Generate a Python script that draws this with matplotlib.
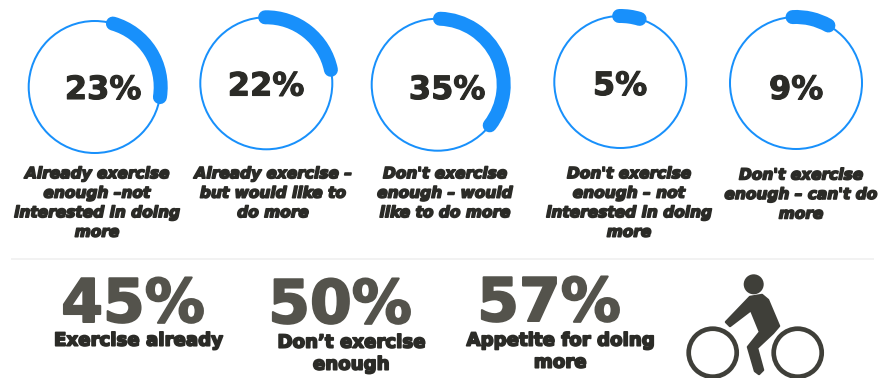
import matplotlib
matplotlib.use("Agg")
import matplotlib.pyplot as plt
import matplotlib.patheffects as pe
from matplotlib.patches import Arc, Circle, Polygon

# Survey shares for each exercise attitude group
group_values = [23, 22, 35, 5, 9]
group_labels = [
    "Already exercise\nenough –not\ninterested in doing\nmore",
    "Already exercise –\nbut would like to\ndo more",
    "Don't exercise\nenough – would\nlike to do more",
    "Don't exercise\nenough – not\ninterested in doing\nmore",
    "Don't exercise\nenough – can't do\nmore",
]
summary_values = [45, 50, 57]
summary_labels = ["Exercise already", "Don’t exercise\nenough", "Appetite for doing\nmore"]

# Layout in pixels, origin at the top left
PX = 0.72
ring_x = [94.7, 266.3, 437.7, 620.3, 796]
ring_y = [87, 83.3, 84.7, 82, 83]
arc_start = [16, -1, 2, -1, -3]
num_x = [103, 266, 447, 620, 796]
num_y = [87, 83.5, 87, 83, 87]
cap_x = [97, 273, 445, 629, 801]
cap_y = [173.7, 173.7, 173.7, 173.7, 175]
sum_x = [133, 340, 549]
sum_y = [299, 300, 298]
sum_lab_x = [138, 351, 560]
sum_lab_y = [340.7, 342.7, 340.7]

BLUE = "#1890fb"
DARK = "#2b2b27"
GREY = "#54534c"
ICON = "#3f3f39"
RADIUS = 66

fig = plt.figure(figsize=(8.82, 3.78), dpi=100, facecolor="white")
ax = fig.add_axes([0, 0, 1, 1])
ax.set_xlim(0, 882)
ax.set_ylim(378, 0)
ax.axis("off")


def heavy(width, color):
    return [pe.withStroke(linewidth=width * PX, foreground=color)]


for i, value in enumerate(group_values):
    ax.add_patch(Circle((ring_x[i], ring_y[i]), RADIUS, fill=False, ec=BLUE, lw=2.0 * PX))
    theta1 = arc_start[i] - 90
    ax.add_patch(Arc((ring_x[i], ring_y[i]), 2 * RADIUS, 2 * RADIUS, theta1=theta1,
                     theta2=theta1 + 3.6 * value, ec=BLUE, lw=14 * PX, capstyle="round"))
    ax.text(num_x[i], num_y[i], f"{value}%", ha="center", va="center_baseline", color=DARK,
            family="DejaVu Sans", weight="bold", fontsize=32 * PX,
            path_effects=heavy(1.1, DARK))
    for j, line in enumerate(group_labels[i].split("\n")):
        ax.text(cap_x[i], cap_y[i] + j * 19.5, line, ha="center", va="center", color=DARK,
                family="DejaVu Sans", weight="bold", style="italic", fontsize=15.4 * PX,
                path_effects=heavy(1.6, DARK))

# Divider between the two rows
ax.plot([11, 874], [259, 259], color="#eeeeee", lw=1.5 * PX, solid_capstyle="butt")

for i, value in enumerate(summary_values):
    ax.text(sum_x[i], sum_y[i], f"{value}%", ha="center", va="center_baseline", color=GREY,
            family="DejaVu Sans", weight="bold", fontsize=60 * PX,
            path_effects=heavy(2.0, GREY))
    for j, line in enumerate(summary_labels[i].split("\n")):
        ax.text(sum_lab_x[i], sum_lab_y[i] + j * 22, line, ha="center", va="center", color=DARK,
                family="DejaVu Sans", weight="bold", fontsize=18.2 * PX,
                path_effects=heavy(1.7, DARK))

# Cyclist pictogram
ax.add_patch(Circle((753.7, 284.3), 10, fc=ICON, ec="none"))
for wx in (712.7, 797.7):
    ax.add_patch(Circle((wx, 352.7), 24, fill=False, ec=ICON, lw=4.7 * PX))
body = [(750, 297), (762, 295), (768, 300), (779, 326), (773, 333), (757, 348),
        (763, 370), (759, 374), (755, 371), (748, 347), (760, 332), (751, 310),
        (730, 326), (726, 322)]
ax.add_patch(Polygon(body, closed=True, fc=ICON, ec=ICON, lw=2.5 * PX, joinstyle="round"))

fig.savefig("out.png", dpi=100, facecolor="white")
